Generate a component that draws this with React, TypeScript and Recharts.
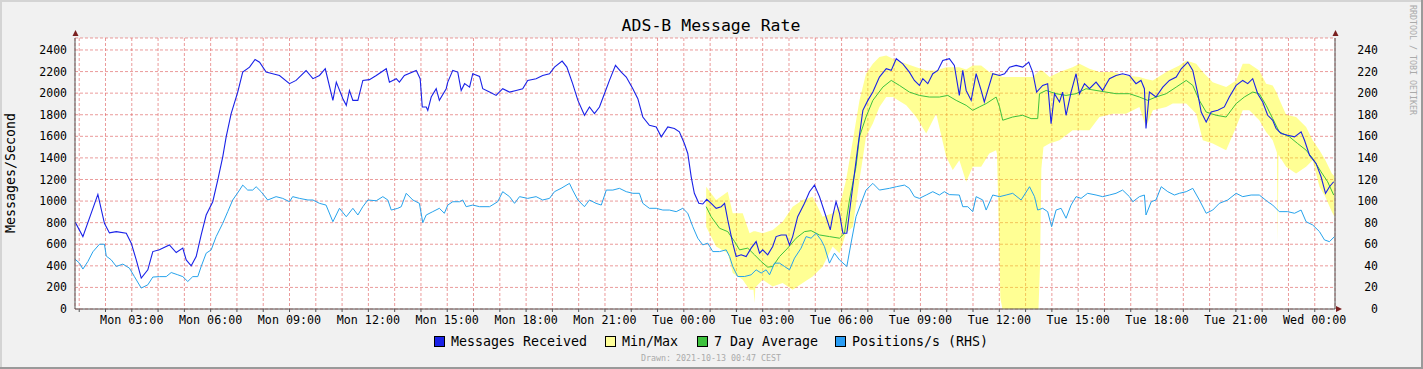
import { ComposedChart, Line, Area, XAxis, YAxis, CartesianGrid } from "recharts";

// hours since Mon 00:00
const msgTimes = [
  0.85, 1.14, 1.71, 1.96, 2.15, 2.41, 2.79, 2.98, 3.17, 3.36,
  3.61, 3.8, 4.05, 4.43, 4.69, 4.94, 5.07, 5.26, 5.45, 5.64,
  5.83, 6.08, 6.27, 6.46, 6.59, 6.78, 7.03, 7.22, 7.48, 7.69,
  7.86, 8.11, 8.36, 8.62, 9.0, 9.25, 9.63, 9.89, 10.14, 10.36,
  10.65, 10.78, 11.03, 11.16, 11.28, 11.41, 11.6, 11.79, 12.04, 12.3,
  12.68, 12.8, 13.06, 13.18, 13.37, 13.82, 13.97, 14.05, 14.2, 14.26,
  14.39, 14.58, 14.7, 14.96, 15.02, 15.21, 15.4, 15.53, 15.66, 15.85,
  15.97, 16.23, 16.35, 16.61, 16.86, 17.11, 17.37, 17.62, 17.87, 18.06,
  18.38, 18.63, 18.89, 19.08, 19.37, 19.55, 19.77, 19.97, 20.22, 20.41,
  20.6, 20.79, 20.98, 21.17, 21.4, 21.62, 21.81, 22.06, 22.25, 22.44,
  22.69, 22.95, 23.14, 23.39, 23.64, 23.83, 24.02, 24.15, 24.28, 24.4,
  24.57, 24.72, 24.87, 25.04, 25.23, 25.42, 25.55, 25.67, 25.86, 25.99,
  26.18, 26.37, 26.56, 26.75, 26.88, 27.0, 27.19, 27.38, 27.51, 27.7,
  27.89, 28.02, 28.14, 28.33, 28.46, 28.59, 28.78, 28.97, 29.16, 29.41,
  29.57, 29.66, 29.79, 29.92, 30.05, 30.2, 30.36, 30.49, 30.62, 30.81,
  31.0, 31.19, 31.44, 31.7, 31.89, 32.08, 32.33, 32.58, 32.77, 32.96,
  33.09, 33.28, 33.47, 33.66, 33.85, 34.1, 34.29, 34.48, 34.61, 34.74,
  34.93, 35.12, 35.31, 35.43, 35.56, 35.75, 36.01, 36.2, 36.39, 36.64,
  36.89, 37.12, 37.27, 37.42, 37.65, 37.84, 37.97, 38.1, 38.29, 38.41,
  38.54, 38.73, 38.92, 39.05, 39.24, 39.43, 39.68, 39.93, 40.19, 40.44,
  40.69, 40.95, 41.2, 41.39, 41.52, 41.58, 41.71, 41.96, 42.22, 42.47,
  42.73, 42.92, 43.17, 43.36, 43.55, 43.68, 43.87, 44.06, 44.31, 44.56,
  44.75, 45.01, 45.26, 45.45, 45.64, 45.83, 46.02, 46.21, 46.4, 46.53,
  46.72, 46.97, 47.23, 47.48, 47.61, 47.8, 48.05, 48.24, 48.41, 48.56,
  48.72,
];
const msgValues = [
  804, 671, 1062, 794, 705, 717, 702, 610, 455, 286,
  363, 532, 548, 594, 523, 564, 455, 400, 486, 686,
  871, 994, 1194, 1410, 1595, 1810, 2010, 2195, 2241, 2312,
  2287, 2195, 2180, 2164, 2088, 2118, 2210, 2134, 2164, 2226,
  1933, 2102, 1949, 1887, 2025, 1933, 1933, 2118, 2125, 2164,
  2226, 2102, 2134, 2102, 2164, 2211, 2134, 1872, 1872, 1841,
  1964, 2041, 1933, 2041, 2102, 2211, 2195, 2025, 2088, 2056,
  2180, 2155, 2041, 2010, 1979, 2041, 2010, 2025, 2041, 2118,
  2134, 2164, 2180, 2241, 2297, 2241, 2088, 1933, 1795, 1872,
  1810, 1872, 1995, 2118, 2257, 2195, 2149, 2041, 1949, 1779,
  1702, 1687, 1595, 1687, 1672, 1641, 1533, 1441, 1225, 1072,
  979, 973, 1016, 979, 933, 948, 979, 825, 610, 486,
  502, 486, 564, 625, 517, 548, 502, 579, 671, 686,
  686, 594, 671, 855, 917, 979, 1087, 1148, 1041, 855,
  733, 855, 994, 887, 702, 702, 1010, 1256, 1502, 1841,
  1933, 2010, 2149, 2226, 2211, 2319, 2272, 2195, 2118, 2072,
  2134, 2088, 2180, 2211, 2303, 2319, 2257, 1979, 2211, 2025,
  1933, 2180, 2025, 1918, 2025, 2180, 2164, 2180, 2241, 2257,
  2241, 2288, 2195, 2010, 2072, 2088, 1718, 1995, 1918, 2010,
  1795, 2010, 2180, 1995, 2088, 2041, 2102, 2025, 2134, 2164,
  2180, 2164, 2088, 2118, 2041, 1672, 2010, 1964, 2056, 2118,
  2149, 2226, 2288, 2211, 1995, 1825, 1733, 1825, 1841, 1872,
  1964, 2072, 2118, 2088, 2134, 1995, 1918, 1795, 1749, 1672,
  1626, 1610, 1595, 1641, 1564, 1425, 1349, 1225, 1072, 1133,
  1179,
];

const posTimes = [
  0.85, 1.01, 1.14, 1.33, 1.52, 1.77, 1.96, 2.03, 2.22, 2.41,
  2.66, 2.91, 3.1, 3.36, 3.61, 3.8, 4.05, 4.31, 4.5, 4.75,
  4.94, 5.13, 5.32, 5.51, 5.64, 5.83, 6.02, 6.21, 6.46, 6.65,
  6.84, 7.1, 7.22, 7.41, 7.6, 7.73, 7.92, 8.17, 8.49, 8.74,
  9.0, 9.12, 9.38, 9.7, 9.89, 10.14, 10.39, 10.65, 10.9, 11.16,
  11.41, 11.6, 11.79, 11.98, 12.3, 12.55, 12.74, 12.87, 13.12, 13.25,
  13.44, 13.69, 13.94, 14.07, 14.2, 14.45, 14.7, 14.89, 15.02, 15.21,
  15.47, 15.59, 15.72, 15.97, 16.23, 16.61, 16.92, 17.11, 17.37, 17.56,
  17.75, 18.06, 18.38, 18.63, 18.89, 19.08, 19.33, 19.65, 19.77, 19.97,
  20.22, 20.41, 20.66, 20.86, 21.05, 21.3, 21.55, 21.81, 22.06, 22.31,
  22.44, 22.69, 22.95, 23.2, 23.45, 23.71, 23.96, 24.15, 24.34, 24.53,
  24.72, 24.91, 25.1, 25.36, 25.61, 25.74, 25.86, 26.05, 26.31, 26.56,
  26.75, 26.94, 27.13, 27.26, 27.45, 27.64, 27.83, 28.02, 28.21, 28.46,
  28.65, 28.84, 29.03, 29.22, 29.35, 29.54, 29.73, 29.92, 30.2, 30.36,
  30.55, 30.74, 30.93, 31.19, 31.44, 31.82, 32.08, 32.39, 32.58, 32.77,
  32.96, 33.22, 33.47, 33.72, 33.91, 34.1, 34.48, 34.61, 34.8, 34.99,
  35.12, 35.37, 35.5, 35.75, 36.01, 36.26, 36.51, 36.83, 37.15, 37.34,
  37.46, 37.65, 37.84, 37.99, 38.16, 38.35, 38.54, 38.73, 38.92, 39.11,
  39.36, 39.68, 39.93, 40.19, 40.44, 40.69, 40.95, 41.08, 41.33, 41.52,
  41.58, 41.78, 41.96, 42.16, 42.41, 42.66, 42.85, 43.11, 43.36, 43.61,
  43.87, 44.12, 44.37, 44.69, 45.01, 45.26, 45.58, 45.89, 46.21, 46.4,
  46.65, 46.97, 47.23, 47.48, 47.67, 47.92, 48.18, 48.37, 48.56, 48.75,
];
const posValues = [
  46, 42.5, 37, 44, 53, 60, 60, 49, 45.5, 39.4,
  41.6, 37.9, 30, 19.4, 22.4, 29.6, 30, 30, 33.8, 31.7,
  30, 25.5, 30, 30, 39.4, 51.7, 54.8, 67.1, 79.4, 90.2,
  101, 110.2, 114.8, 110.2, 110.2, 113.3, 108.7, 101, 104.1, 102.5,
  99.4, 104.1, 102.5, 101, 101, 97.9, 96.3, 80.9, 93.3, 85.5,
  93.3, 87.1, 94.8, 101, 100.3, 104.1, 101, 91.7, 93.3, 94.8,
  107.2, 101, 97.9, 80, 87.1, 90.2, 93.3, 88.7, 96.3, 99.4,
  99.4, 101, 94.8, 96.3, 94.8, 94.8, 99.4, 108.7, 104.1, 97.9,
  104.1, 102.5, 104.1, 101, 102.5, 108.7, 111.8, 116.4, 110.2, 101,
  94.8, 101, 97.9, 96.3, 110.2, 110.2, 111.8, 108.7, 107.2, 107.2,
  97.9, 93.3, 93.3, 91.7, 91.7, 90.2, 93.3, 88.7, 76.3, 65.6,
  59.4, 61, 53.2, 53.2, 54.8, 48.6, 39.4, 30.1, 30.1, 31.7,
  36.3, 33.3, 36.3, 31.7, 42.5, 42.5, 39.4, 36.3, 47.1, 56.4,
  67.1, 65.6, 70.2, 64, 57.8, 42.5, 51.7, 45.5, 39.4, 61,
  85.5, 97.9, 110.2, 116.4, 110.2, 111.8, 113.3, 114.8, 111.8, 104.1,
  102.5, 105.6, 108.7, 105.6, 108.7, 106, 105.6, 94.8, 94.8, 90.2,
  104.1, 101, 91.7, 105.6, 104.1, 105.6, 107.2, 101, 113.3, 104.1,
  91.7, 93.3, 90.2, 76.3, 91.7, 93.3, 84.1, 96.3, 104.1, 102.5,
  107.2, 105.6, 104.1, 105.6, 107.2, 110.2, 104.1, 99.4, 104.1, 105.6,
  87.1, 99.4, 101, 113.3, 108.7, 105.6, 107.2, 108.7, 111.8, 101,
  88.7, 91.7, 97.9, 101, 107.2, 104.1, 105.6, 105.6, 99.4, 96.3,
  90.2, 90.2, 88.7, 91.7, 80.9, 77.9, 71.7, 64, 62.4, 67.1,
];

const avgTimes = [
  24.85, 25.04, 25.36, 25.67, 25.93, 26.12, 26.43, 26.69, 26.94, 27.19,
  27.38, 27.64, 27.95, 28.27, 28.59, 28.84, 29.16, 29.54, 29.92, 30.11,
  30.3, 30.55, 30.68, 30.93, 31.19, 31.57, 31.89, 32.2, 32.58, 32.96,
  33.34, 33.72, 34.04, 34.36, 34.74, 34.99, 35.24, 35.5, 35.88, 36.01,
  36.13, 36.51, 36.89, 37.21, 37.46, 37.53, 37.78, 38.16, 38.54, 38.92,
  39.3, 39.68, 40.06, 40.44, 40.95, 41.33, 41.65, 41.96, 42.35, 42.73,
  43.11, 43.36, 43.61, 43.87, 44.25, 44.63, 45.01, 45.32, 45.64, 45.89,
  46.15, 46.4, 46.65, 47.04, 47.35, 47.67, 47.92, 48.24, 48.49, 48.72,
];
const avgValues = [
  948, 855, 748, 717, 625, 548, 564, 502, 440, 388,
  394, 486, 564, 656, 717, 726, 686, 671, 656, 702,
  1010, 1320, 1595, 1779, 1933, 2056, 2118, 2072, 2010, 1979,
  1964, 1964, 1979, 1933, 1887, 1841, 1872, 1903, 1964, 1872,
  1749, 1779, 1795, 1764, 1764, 1995, 2025, 1995, 1979, 1995,
  2041, 2025, 2010, 1995, 1995, 1964, 1933, 1964, 1995, 2056,
  2118, 2072, 1933, 1825, 1795, 1779, 1903, 1964, 2010, 1995,
  1887, 1764, 1641, 1595, 1533, 1472, 1395, 1271, 1179, 1056,
];

const bandTimes = [
  24.85, 25.23, 25.67, 25.86, 26.24, 26.5, 26.65, 26.69, 26.72, 27.0,
  27.38, 27.76, 28.14, 28.52, 28.9, 29.28, 29.66, 29.92, 30.17, 30.43,
  30.68, 30.93, 31.19, 31.44, 31.7, 31.95, 32.46, 32.84, 33.22, 33.6,
  33.98, 34.23, 34.48, 34.74, 34.99, 35.31, 35.62, 35.88, 35.91, 35.99,
  36.04, 36.12, 37.27, 37.49, 37.55, 37.6, 37.68, 37.91, 38.29, 38.79,
  39.05, 39.43, 39.81, 40.32, 40.82, 41.33, 41.58, 41.84, 42.35, 42.6,
  42.85, 43.11, 43.49, 43.74, 44.12, 44.63, 45.01, 45.26, 45.51, 45.89,
  46.15, 46.4, 46.56, 46.59, 46.62, 46.91, 47.29, 47.67, 47.92, 48.18,
  48.4, 48.65, 48.75,
];
const bandMin = [
  763, 579, 517, 333, 271, 178, 178, 55, 200, 271,
  209, 240, 178, 240, 301, 394, 579, 517, 702, 763,
  1194, 1595, 1718, 1872, 1964, 1964, 1887, 1779, 1626, 1810,
  1410, 1287, 1379, 1179, 1318, 1318, 1441, 1472, 1441, 700,
  100, 0, 0, 0, 400, 1300, 1500, 1533, 1564, 1656,
  1656, 1656, 1779, 1810, 1810, 1872, 1687, 1841, 1872, 1903,
  1903, 1903, 1810, 1564, 1533, 1472, 1687, 1841, 1841, 1749,
  1641, 1564, 1450, 610, 1430, 1318, 1256, 1318, 1379, 1133,
  1041, 900, 855,
];
const bandMax = [
  1133, 1010, 1087, 887, 887, 702, 720, 720, 720, 702,
  733, 809, 948, 1010, 1041, 855, 887, 950, 1194, 1564,
  1933, 2180, 2272, 2334, 2349, 2319, 2272, 2241, 2211, 2211,
  2241, 2241, 2241, 2220, 2257, 2257, 2195, 2180, 2175, 2170,
  2160, 2149, 2149, 2200, 2211, 2211, 2200, 2149, 2195, 2241,
  2272, 2226, 2195, 2195, 2164, 2149, 2130, 2118, 2195, 2226,
  2257, 2303, 2272, 2195, 2102, 2056, 2118, 2272, 2272, 2211,
  2088, 2072, 2000, 1980, 1960, 1800, 1779, 1687, 1564, 1470,
  1380, 1256, 1230,
];

const leftTicks = [0, 200, 400, 600, 800, 1000, 1200, 1400, 1600, 1800, 2000, 2200, 2400];
const rightTicks = [0, 20, 40, 60, 80, 100, 120, 140, 160, 180, 200, 220, 240];
const hourTicks = Array.from({ length: 48 }, (_, i) => i + 1);
const dayNames = ["Mon", "Tue", "Wed"];

const msgData = msgTimes.map((t, i) => ({ t, v: msgValues[i] }));
const posData = posTimes.map((t, i) => ({ t, v: posValues[i] }));
const avgData = avgTimes.map((t, i) => ({ t, v: avgValues[i] }));
const bandData = bandTimes.map((t, i) => ({ t, range: [bandMin[i], bandMax[i]] }));

const mono = "'DejaVu Sans Mono', monospace";

const XTick = (p: any) => {
  const h = p.payload.value;
  if (h % 3 !== 0) return <g />;
  const label = `${dayNames[Math.floor(h / 24)]} ${String(h % 24).padStart(2, "0")}:00`;
  return (
    <text x={p.x} y={p.y} dy="0.71em" textAnchor="middle" fontFamily={mono} fontSize={11.7} fill="#000">
      {label}
    </text>
  );
};

const RightTick = (p: any) => (
  <text x={1378} y={p.y} dy="0.355em" textAnchor="end" fontFamily={mono} fontSize={11.5} fill="#000">
    {p.payload.value}
  </text>
);

const legendItems = [
  { x: 434, label: "Messages Received", color: "#1a22e8" },
  { x: 605, label: "Min/Max", color: "#ffff99" },
  { x: 697, label: "7 Day Average", color: "#3ec23e" },
  { x: 835, label: "Positions/s (RHS)", color: "#2a9df4" },
];

export default function App() {
  return (
    <div style={{ position: "absolute", left: 0, top: 0, width: 1423, height: 369, background: "#f1f1f1" }}>
      <ComposedChart width={1423} height={369} margin={{ top: 38, right: 0, bottom: 0, left: 0 }}>
        <CartesianGrid stroke="#e06666" strokeOpacity={0.65} strokeDasharray="3 2" fill="#ffffff" fillOpacity={1} />
        <XAxis
          dataKey="t"
          type="number"
          domain={[0.84, 48.77]}
          ticks={hourTicks}
          interval={0}
          allowDataOverflow
          height={60}
          tickSize={3}
          tickMargin={4}
          tick={XTick}
          axisLine={{ stroke: "#555" }}
          tickLine={{ stroke: "#555" }}
        />
        <YAxis
          type="number"
          domain={[0, 2511]}
          ticks={leftTicks}
          interval={0}
          allowDataOverflow
          width={75}
          tickSize={3}
          tickMargin={5}
          tickLine={false}
          axisLine={{ stroke: "#555" }}
          tick={{ fontFamily: mono, fontSize: 11.5, fill: "#000" }}
        />
        <YAxis
          yAxisId="right"
          orientation="right"
          type="number"
          domain={[0, 251.1]}
          ticks={rightTicks}
          interval={0}
          allowDataOverflow
          width={88}
          tickLine={false}
          axisLine={{ stroke: "#555" }}
          tick={RightTick}
        />
        <Area
          data={bandData}
          dataKey="range"
          type="linear"
          stroke="none"
          fill="#ffff00"
          fillOpacity={0.42}
          isAnimationActive={false}
        />
        <Line data={avgData} dataKey="v" type="linear" stroke="#3ec23e" strokeWidth={1} dot={false} isAnimationActive={false} />
        <Line data={posData} dataKey="v" yAxisId="right" type="linear" stroke="#27a3ec" strokeWidth={1} dot={false} isAnimationActive={false} />
        <Line data={msgData} dataKey="v" type="linear" stroke="#1a22e8" strokeWidth={1.1} dot={false} isAnimationActive={false} />
      </ComposedChart>
      <svg width={1423} height={369} style={{ position: "absolute", left: 0, top: 0, pointerEvents: "none" }}>
        <text x={711} y={31} textAnchor="middle" fontFamily={mono} fontSize={16.5} fill="#000">
          ADS-B Message Rate
        </text>
        <text transform="translate(15,173) rotate(-90)" textAnchor="middle" fontFamily={mono} fontSize={13.3} fill="#000">
          Messages/Second
        </text>
        <text transform="translate(1410,5) rotate(90)" fontFamily={mono} fontSize={8.3} fill="#aaa">
          RRDTOOL / TOBI OETIKER
        </text>
        <polygon points="72.5,36 75.5,30 78.5,36" fill="#7a1f1f" />
        <polygon points="1332.5,36 1335.5,30 1338.5,36" fill="#7a1f1f" />
        <polygon points="1336,306 1342,309 1336,312" fill="#7a1f1f" />
        {legendItems.map((it) => (
          <g key={it.label}>
            <rect x={it.x + 0.5} y={336.5} width={10} height={10} fill={it.color} stroke="#000" strokeWidth={1} />
            <text x={it.x + 17} y={346} fontFamily={mono} fontSize={13.3} fill="#000">
              {it.label}
            </text>
          </g>
        ))}
        <text x={711} y={361} textAnchor="middle" fontFamily={mono} fontSize={8.3} fill="#aaa">
          Drawn: 2021-10-13 00:47 CEST
        </text>
      </svg>
      <div style={{ position: "absolute", left: 0, top: 0, width: 1423, height: 2, background: "#d4d4d4" }} />
      <div style={{ position: "absolute", left: 0, top: 0, width: 2, height: 369, background: "#d4d4d4" }} />
      <div style={{ position: "absolute", left: 0, top: 367, width: 1423, height: 2, background: "#9a9a9a" }} />
      <div style={{ position: "absolute", left: 1421, top: 0, width: 2, height: 369, background: "#9a9a9a" }} />
    </div>
  );
}
